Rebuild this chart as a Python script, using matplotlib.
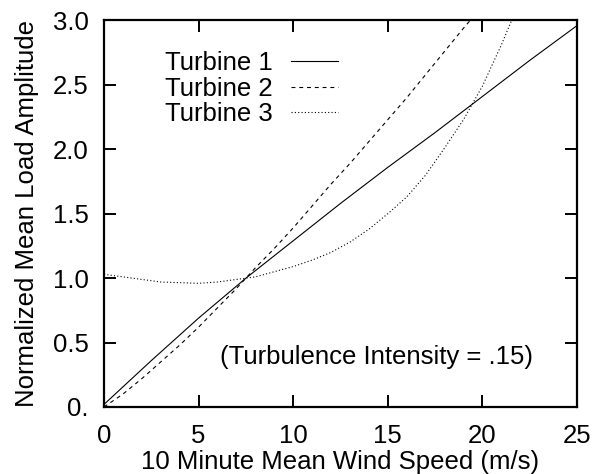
import matplotlib
matplotlib.use('Agg')
import matplotlib.pyplot as plt

plt.rcParams['font.family'] = ['Liberation Sans', 'DejaVu Sans']

# Turbine 1 (solid)
t1_speed = [0, 2.5, 5, 7.5, 10, 12.5, 15, 17.5, 20, 22.5, 25]
t1_load = [0.02, 0.36, 0.69, 1.0, 1.29, 1.58, 1.86, 2.13, 2.41, 2.69, 2.96]

# Turbine 2 (dashed)
t2_speed = [0, 1, 2, 3, 4, 5, 6, 7, 8, 9, 10, 11, 12, 13, 14, 15, 16, 17, 18, 19, 20]
t2_load = [0.0, 0.10, 0.22, 0.35, 0.48, 0.62, 0.77, 0.92, 1.08, 1.23, 1.39,
           1.56, 1.73, 1.89, 2.06, 2.23, 2.40, 2.58, 2.76, 2.94, 3.11]

# Turbine 3 (dotted)
t3_speed = [0, 1, 2, 3, 4, 5, 6, 7, 8, 9, 10, 11, 12, 13, 14, 15, 16, 17, 18,
            19, 20, 21, 21.6]
t3_load = [1.03, 1.01, 0.99, 0.97, 0.965, 0.96, 0.97, 0.99, 1.01, 1.05, 1.09,
           1.14, 1.20, 1.28, 1.38, 1.50, 1.63, 1.80, 2.01, 2.23, 2.49, 2.81, 3.02]

x_ticks = [0, 5, 10, 15, 20, 25]
y_ticks = [0, 0.5, 1.0, 1.5, 2.0, 2.5, 3.0]
y_tick_labels = ['0.', '0.5', '1.0', '1.5', '2.0', '2.5', '3.0']

fs = 18.5

fig = plt.figure(figsize=(5.93, 4.74), dpi=100)
ax = fig.add_axes([0.1754, 0.1414, 0.7976, 0.8154])

ax.plot(t1_speed, t1_load, color='black', lw=0.8, label='Turbine 1')
ax.plot(t2_speed, t2_load, color='black', lw=0.8, dashes=(3.5, 3.5), label='Turbine 2')
ax.plot(t3_speed, t3_load, color='black', lw=0.8, dashes=(1, 2), label='Turbine 3')

ax.set_xlim(0, 25)
ax.set_ylim(0, 3.0)
ax.set_xticks(x_ticks)
ax.set_yticks(y_ticks)
ax.set_yticklabels(y_tick_labels)
ax.tick_params(direction='in', length=8.6, width=1.4, top=True, right=True,
               labelsize=fs)
ax.tick_params(axis='x', pad=12)
ax.tick_params(axis='y', pad=11)
for sp in ax.spines.values():
    sp.set_linewidth(1.6)

ax.set_xlabel('10 Minute Mean Wind Speed (m/s)', fontsize=fs, labelpad=2)
ax.set_ylabel('Normalized Mean Load Amplitude', fontsize=fs, labelpad=10)

ax.text(22.7, 0.39, '(Turbulence Intensity = .15)', fontsize=fs,
        ha='right', va='center')

ax.legend(loc='upper left', bbox_to_anchor=(0.129, 0.92), frameon=False,
          markerfirst=False, fontsize=fs, handlelength=1.83,
          handletextpad=0.7, labelspacing=0.05, borderaxespad=0, borderpad=0)

fig.savefig('out.png', dpi=100)
